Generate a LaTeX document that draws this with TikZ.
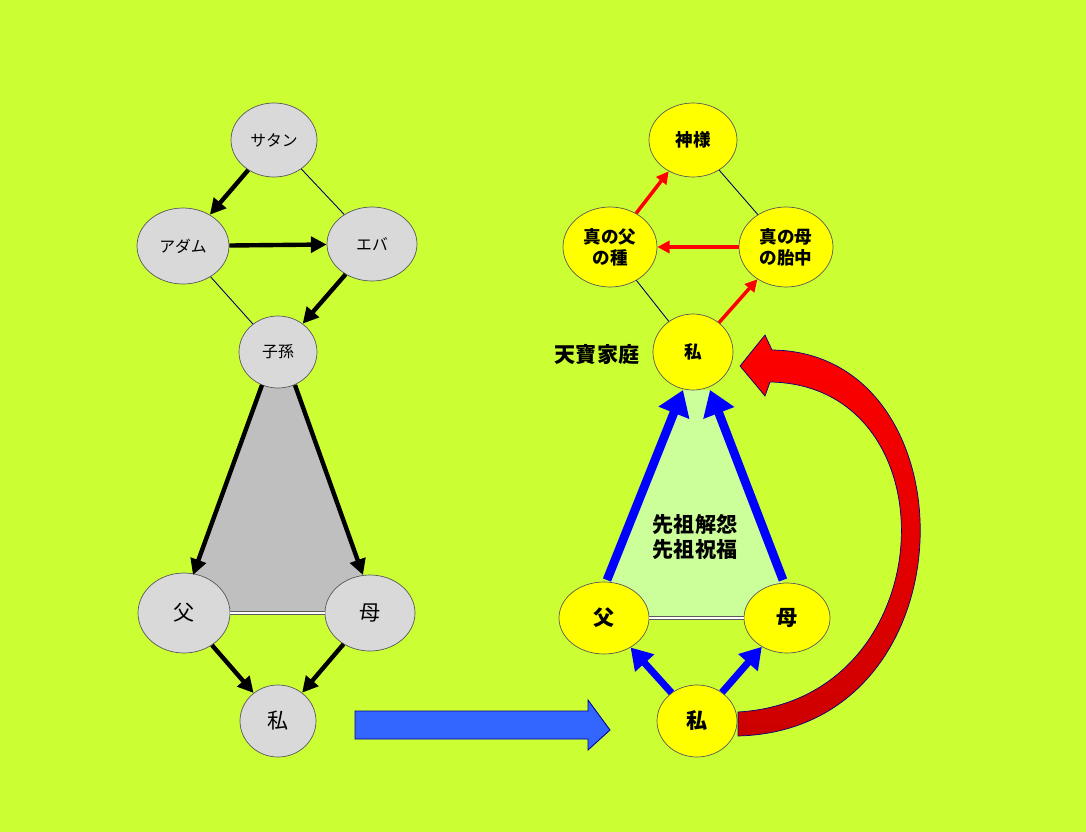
\documentclass[tikz,border=0pt]{standalone}
\usepackage{fontspec}
\setmainfont{Noto Sans CJK JP}
\usetikzlibrary{shapes.geometric,arrows.meta}
\definecolor{bg}{HTML}{CCFF33}
\definecolor{gnode}{HTML}{D9D9D9}
\definecolor{ynode}{HTML}{FFFF00}
\definecolor{tri}{HTML}{BFBFBF}
\definecolor{ltri}{HTML}{CCFF99}
\definecolor{barrow}{HTML}{3366FF}
\tikzset{
 gn/.style={ellipse,draw=gray!70!black,fill=gnode,inner sep=0pt,font=\small},
 yn/.style={ellipse,draw=gray!70!black,fill=ynode,inner sep=0pt,font=\normalsize\bfseries},
 blk/.style={line width=2.5pt,-{Triangle[length=9pt,width=9pt]}},
 thin/.style={draw=blue!40!black,line width=0.5pt},
 rd/.style={red,line width=2pt,-{Triangle[length=7pt,width=7pt]}},
 bl/.style={blue,line width=5pt,-{Triangle[length=14pt,width=18pt]}},
 dbl/.style={double=white,double distance=1.2pt,draw=gray!70!black,line width=0.5pt}
}
\begin{document}
\begin{tikzpicture}[x=0.02cm,y=-0.02cm]
\fill[bg] (0,0) rectangle (1086,832);
\useasboundingbox (0,0) rectangle (1086,832);
% triangles
\fill[tri] (262,385) -- (295,385) -- (377,613) -- (179,613) -- cycle;
\fill[ltri] (683,390) -- (710,390) -- (795,618) -- (595,618) -- cycle;
% left nodes
\node[gn,minimum width=86*0.02cm,minimum height=74*0.02cm] (sat) at (274,140) {サタン};
\node[gn,minimum width=92*0.02cm,minimum height=76*0.02cm] (ada) at (183,246) {アダム};
\node[gn,minimum width=90*0.02cm,minimum height=74*0.02cm] (eva) at (372,244) {エバ};
\node[gn,minimum width=78*0.02cm,minimum height=72*0.02cm] (shi) at (278,352) {子孫};
\node[gn,minimum width=92*0.02cm,minimum height=80*0.02cm,font=\large] (lf) at (184,613) {父};
\node[gn,minimum width=90*0.02cm,minimum height=76*0.02cm,font=\large] (lm) at (370,613) {母};
\node[gn,minimum width=76*0.02cm,minimum height=72*0.02cm,font=\large] (lw) at (278,721) {私};
% right nodes
\node[yn,minimum width=88*0.02cm,minimum height=74*0.02cm] (kami) at (693,140) {神様};
\node[yn,minimum width=94*0.02cm,minimum height=80*0.02cm,align=center] (tf) at (610,247) {真の父\\の種};
\node[yn,minimum width=94*0.02cm,minimum height=80*0.02cm,align=center] (tm) at (786,247) {真の母\\の胎中};
\node[yn,minimum width=80*0.02cm,minimum height=76*0.02cm] (rw) at (693,352) {私};
\node[yn,minimum width=90*0.02cm,minimum height=72*0.02cm,font=\large\bfseries] (rf) at (604,618) {父};
\node[yn,minimum width=86*0.02cm,minimum height=70*0.02cm,font=\large\bfseries] (rm) at (787,618) {母};
\node[yn,minimum width=80*0.02cm,minimum height=72*0.02cm,font=\large\bfseries] (rw2) at (697,721) {私};
\node[font=\large\bfseries] (tenpo) at (597,355) {天寶家庭};
\node[font=\large\bfseries,align=center] (senzo) at (695,537) {先祖解怨\\先祖祝福};
% left connectors
\draw[thin] (sat) -- (eva);
\draw[thin] (ada) -- (shi);
\draw[blk] (sat) -- (ada);
\draw[blk] (ada) -- (eva);
\draw[blk] (eva) -- (shi);
\coordinate (s1) at (262,385); \coordinate (s2) at (295,385);
\coordinate (f1) at (193,575); \coordinate (m1) at (363,575);
\draw[blk] (s1) -- (f1);
\draw[blk] (s2) -- (m1);
\draw[dbl] (lf) -- (lm);
\draw[blk] (lf) -- (lw);
\draw[blk] (lm) -- (lw);
% right connectors
\draw[thin] (kami) -- (tm);
\draw[thin] (tf) -- (rw);
\draw[rd] (tf) -- (kami);
\draw[rd] (tm) -- (tf);
\draw[rd] (rw) -- (tm);
\draw[dbl] (rf) -- (rm);
\coordinate (a1) at (607,580); \coordinate (a2) at (783,580);
\coordinate (t1) at (683,390); \coordinate (t2) at (710,390);
\draw[bl] (a1) -- (t1);
\draw[bl] (a2) -- (t2);
\draw[blue,line width=4pt,-{Triangle[length=12pt,width=14pt]}] (rw2) -- (rf);
\draw[blue,line width=4pt,-{Triangle[length=12pt,width=14pt]}] (rw2) -- (rm);
% block arrow
\fill[barrow,draw=blue!60!black,line width=0.5pt] (355,711) -- (588,711) -- (588,700) -- (610,730) -- (588,750) -- (588,739) -- (355,739) -- cycle;
% red curved arrow
\shade[top color=red,bottom color=red!80!black,draw=blue!50!black,line width=0.4pt]
 (738,736) .. controls (975,730) and (975,352) .. (772,350) -- (765,335) -- (740,366) -- (765,396) -- (770,382) .. controls (955,385) and (945,700) .. (738,712) -- cycle;
\end{tikzpicture}
\end{document}
